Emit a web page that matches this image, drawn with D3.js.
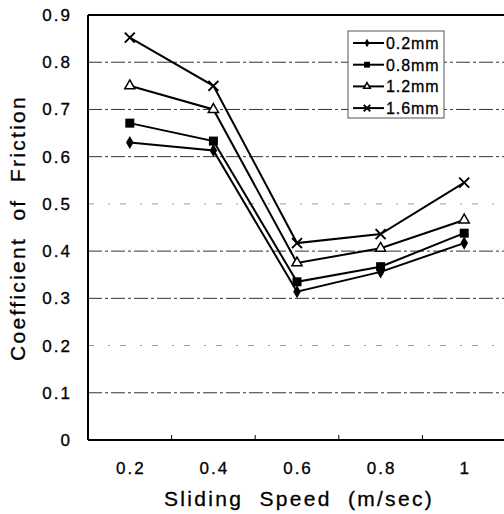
<!DOCTYPE html>
<html>
<head>
<script src="https://d3js.org/d3.v7.min.js"></script>
<style>
body { margin: 0; background: white; }
text { font-family: "Liberation Sans", Arial, sans-serif; fill: #000; stroke: #000; stroke-width: 0.3px; }
</style>
</head>
<body>
<script>
var speeds = ["0.2", "0.4", "0.6", "0.8", "1"];
var yTicks = [0, 0.1, 0.2, 0.3, 0.4, 0.5, 0.6, 0.7, 0.8, 0.9];
var names = ["0.2mm", "0.8mm", "1.2mm", "1.6mm"];
var s02 = [0.63, 0.613, 0.314, 0.356, 0.417];
var s08 = [0.671, 0.633, 0.335, 0.367, 0.438];
var s12 = [0.75, 0.70, 0.375, 0.406, 0.466];
var s16 = [0.852, 0.75, 0.417, 0.436, 0.545];
var shapes = ["diamond", "square", "triangle", "cross"];

var width = 504, height = 514;
var plotLeft = 88, plotTop = 15, plotBottom = 440, plotRight = 506;

var svg = d3.select("body").append("svg")
  .attr("width", width).attr("height", height);

var x = d3.scaleBand().domain(speeds).range([plotLeft, plotRight]);
var y = d3.scaleLinear().domain([0, 0.9]).range([plotBottom, plotTop]);

function faint(d) { return Math.abs(d - 0.5) < 1e-6 || Math.abs(d - 0.2) < 1e-6; }

// gridlines
svg.selectAll(".grid").data(yTicks.filter(function(d){ return d > 0 && d < 0.9; }))
  .enter().append("line")
  .attr("x1", plotLeft).attr("x2", width)
  .attr("y1", function(d){ return y(d); }).attr("y2", function(d){ return y(d); })
  .attr("stroke", function(d){ return faint(d) ? "#999" : "#333"; })
  .attr("stroke-width", 1)
  .attr("stroke-dasharray", function(d){ return faint(d) ? "6,14,2,10" : "14,3,3,3"; });

// frame
svg.append("line").attr("x1", plotLeft).attr("x2", plotLeft).attr("y1", plotTop).attr("y2", plotBottom)
  .attr("stroke", "#000").attr("stroke-width", 2);
svg.append("line").attr("x1", plotLeft).attr("x2", width).attr("y1", plotTop).attr("y2", plotTop)
  .attr("stroke", "#000").attr("stroke-width", 2);
svg.append("line").attr("x1", plotLeft).attr("x2", width).attr("y1", plotBottom).attr("y2", plotBottom)
  .attr("stroke", "#000").attr("stroke-width", 2);

// x ticks between categories
svg.selectAll(".xt").data(speeds.slice(1)).enter().append("line")
  .attr("x1", function(d){ return x(d); }).attr("x2", function(d){ return x(d); })
  .attr("y1", plotBottom).attr("y2", plotBottom - 5)
  .attr("stroke", "#000").attr("stroke-width", 1);

// tick labels
svg.selectAll(".yl").data(yTicks).enter().append("text")
  .attr("x", 72).attr("y", function(d){ return y(d) + 6; })
  .attr("text-anchor", "end")
  .style("font-size", "17px").style("letter-spacing", "2px")
  .text(function(d){ return d === 0 ? "0" : d.toFixed(1); });

svg.selectAll(".xl").data(speeds).enter().append("text")
  .attr("x", function(d){ return x(d) + x.bandwidth()/2 + 1; }).attr("y", 474)
  .attr("text-anchor", "middle")
  .style("font-size", "17px").style("letter-spacing", "2px")
  .text(function(d){ return d; });

// axis titles
svg.append("text").attr("x", 299).attr("y", 506).attr("text-anchor", "middle")
  .style("font-size", "21px").style("letter-spacing", "2.3px")
  .attr("xml:space", "preserve")
  .text("Sliding  Speed  (m/sec)");
svg.append("text").attr("transform", "translate(25,228) rotate(-90)")
  .attr("text-anchor", "middle")
  .style("font-size", "21px").style("letter-spacing", "2.3px")
  .attr("xml:space", "preserve")
  .text("Coefficient  of  Friction");

// series
var series = [s02, s08, s12, s16];
var line = d3.line()
  .x(function(d, i){ return x(speeds[i]) + x.bandwidth()/2; })
  .y(function(d){ return y(d); });

function marker(g, shape, cx, cy, sc) {
  if (shape === "diamond") {
    g.append("path").attr("d", d3.symbol(d3.symbolDiamond, 50 * sc * sc)())
      .attr("transform", "translate(" + cx + "," + cy + ")").attr("fill", "#000");
  } else if (shape === "square") {
    var h = 4.5 * sc;
    g.append("rect").attr("x", cx - h).attr("y", cy - h).attr("width", 2 * h).attr("height", 2 * h).attr("fill", "#000");
  } else if (shape === "triangle") {
    g.append("path").attr("d", d3.symbol(d3.symbolTriangle, 45 * sc * sc)())
      .attr("transform", "translate(" + cx + "," + cy + ")")
      .attr("fill", "#fff").attr("stroke", "#000").attr("stroke-width", 1.5);
  } else {
    var r = 5 * sc;
    g.append("path").attr("d", "M" + (cx-r) + "," + (cy-r) + "L" + (cx+r) + "," + (cy+r) + "M" + (cx-r) + "," + (cy+r) + "L" + (cx+r) + "," + (cy-r))
      .attr("stroke", "#000").attr("stroke-width", 2);
  }
}

series.forEach(function(s, k) {
  svg.append("path").datum(s).attr("d", line)
    .attr("fill", "none").attr("stroke", "#000").attr("stroke-width", 2);
  var g = svg.append("g");
  s.forEach(function(v, i) {
    marker(g, shapes[k], x(speeds[i]) + x.bandwidth()/2, y(v), 1);
  });
});

// legend
var lg = svg.append("g");
lg.append("rect").attr("x", 348).attr("y", 31).attr("width", 96).attr("height", 87)
  .attr("fill", "#fff").attr("stroke", "#555").attr("stroke-width", 1);
names.forEach(function(n, k) {
  var ly = 43 + k * 21.7;
  lg.append("line").attr("x1", 353).attr("x2", 384).attr("y1", ly).attr("y2", ly)
    .attr("stroke", "#000").attr("stroke-width", 2);
  marker(lg.append("g"), shapes[k], 367, ly, 0.65);
  lg.append("text").attr("x", 386).attr("y", ly + 6)
    .style("font-size", "16px").style("letter-spacing", "0.9px").text(n);
});
</script>
</body>
</html>
